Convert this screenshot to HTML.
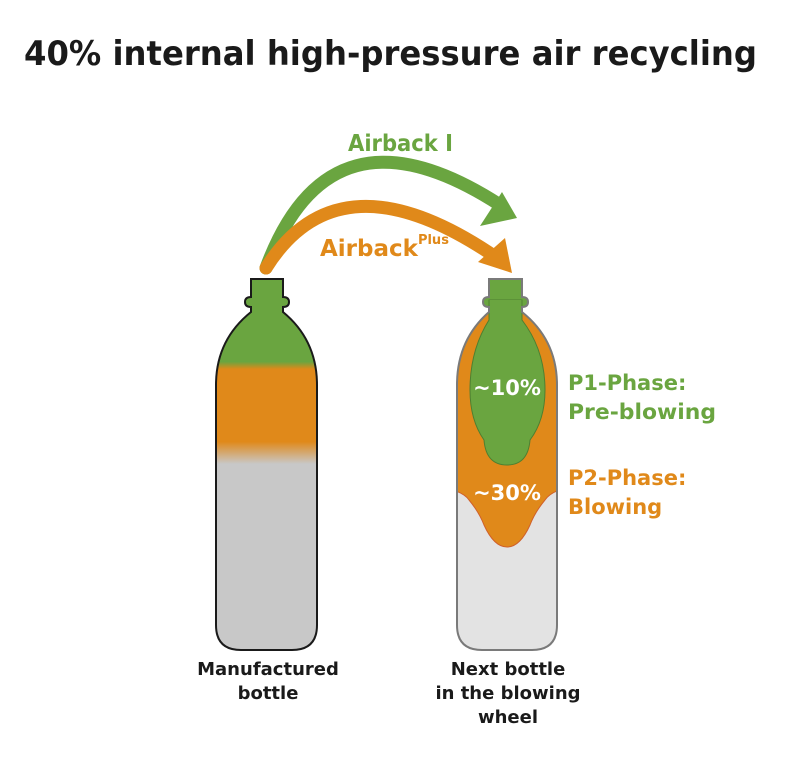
<!DOCTYPE html>
<html><head><meta charset="utf-8"><style>
body{margin:0;background:#fff;}
svg{display:block}
text{font-family:"DejaVu Sans","Liberation Sans",sans-serif;font-weight:bold;}
</style></head><body>
<svg width="800" height="758" viewBox="0 0 800 758">
<defs>
<linearGradient id="lg" x1="0" y1="278" x2="0" y2="650" gradientUnits="userSpaceOnUse">
<stop offset="0" stop-color="#6aa540"/>
<stop offset="0.225" stop-color="#6aa540"/>
<stop offset="0.245" stop-color="#e0891a"/>
<stop offset="0.44" stop-color="#e0891a"/>
<stop offset="0.5" stop-color="#c8c8c8"/>
<stop offset="1" stop-color="#c8c8c8"/>
</linearGradient>
<clipPath id="rb"><path id="rbp" d="M489,279 H522 V297 Q528,297 528,302 Q528,307 522,307 V312 Q557,340 557,385 V625 Q557,650 532,650 H482 Q457,650 457,625 V385 Q457,340 489,312 V307 Q483,307 483,302 Q483,297 489,297 Z"/></clipPath>
</defs>
<text x="24" y="65" font-size="34" fill="#1a1a1a" textLength="733" lengthAdjust="spacingAndGlyphs">40% internal high-pressure air recycling</text>

<!-- left bottle -->
<path d="M251,279 H283 V297 Q289,297 289,302 Q289,307 283,307 V312 Q317,340 317,385 V625 Q317,650 292,650 H241 Q216,650 216,625 V385 Q216,340 251,312 V307 Q245,307 245,302 Q245,297 251,297 Z" fill="url(#lg)" stroke="#1a1a1a" stroke-width="2"/>

<!-- right bottle -->
<g clip-path="url(#rb)">
<rect x="440" y="270" width="130" height="400" fill="#e3e3e3"/>
<path d="M440,270 H570 V488 Q552,490 545,500 Q535,512 530,525 Q520,547 507,547 Q494,547 484,525 Q479,512 469,500 Q462,490 440,488 Z" fill="#e0891a" stroke="#d0602a" stroke-width="1"/>
<rect x="480" y="270" width="52" height="40" fill="#6aa540"/>
<path d="M489,300 H522 V320 Q545,350 545,390 Q545,420 530,440 Q528,465 507,465 Q486,465 484,440 Q470,420 470,390 Q470,350 489,320 Z" fill="#6aa540" stroke="#4e7f30" stroke-width="1"/>
<rect x="489.5" y="300" width="32" height="22" fill="#6aa540"/>
</g>
<use href="#rbp" fill="none" stroke="#7a7a7a" stroke-width="2"/>
<text x="507" y="395" font-size="21" fill="#fff" text-anchor="middle">~10%</text>
<text x="507" y="500" font-size="21" fill="#fff" text-anchor="middle">~30%</text>

<!-- arrows -->
<path d="M266,268 Q330,95 500,205" fill="none" stroke="#6aa540" stroke-width="13" stroke-linecap="round"/>
<polygon points="517,218 480,226 502,192" fill="#6aa540"/>
<path d="M266,268 Q340,150 497,258" fill="none" stroke="#e0891a" stroke-width="13" stroke-linecap="round"/>
<polygon points="512,273 478,262 505,238" fill="#e0891a"/>

<text x="348" y="151" font-size="23" fill="#6aa540" textLength="105" lengthAdjust="spacingAndGlyphs">Airback I</text>
<text x="320" y="256" font-size="23" fill="#e0891a">Airback<tspan font-size="13" dy="-12">Plus</tspan></text>

<text x="568" y="390" font-size="21" fill="#6aa540">P1-Phase:</text>
<text x="568" y="419" font-size="21" fill="#6aa540" textLength="148" lengthAdjust="spacingAndGlyphs">Pre-blowing</text>
<text x="568" y="485" font-size="21" fill="#e0891a">P2-Phase:</text>
<text x="568" y="514" font-size="21" fill="#e0891a">Blowing</text>

<g font-size="18" fill="#1a1a1a" text-anchor="middle">
<text x="268" y="675">Manufactured</text>
<text x="268" y="699">bottle</text>
<text x="508" y="675">Next bottle</text>
<text x="508" y="699">in the blowing</text>
<text x="508" y="723">wheel</text>
</g>
</svg>
</body></html>
